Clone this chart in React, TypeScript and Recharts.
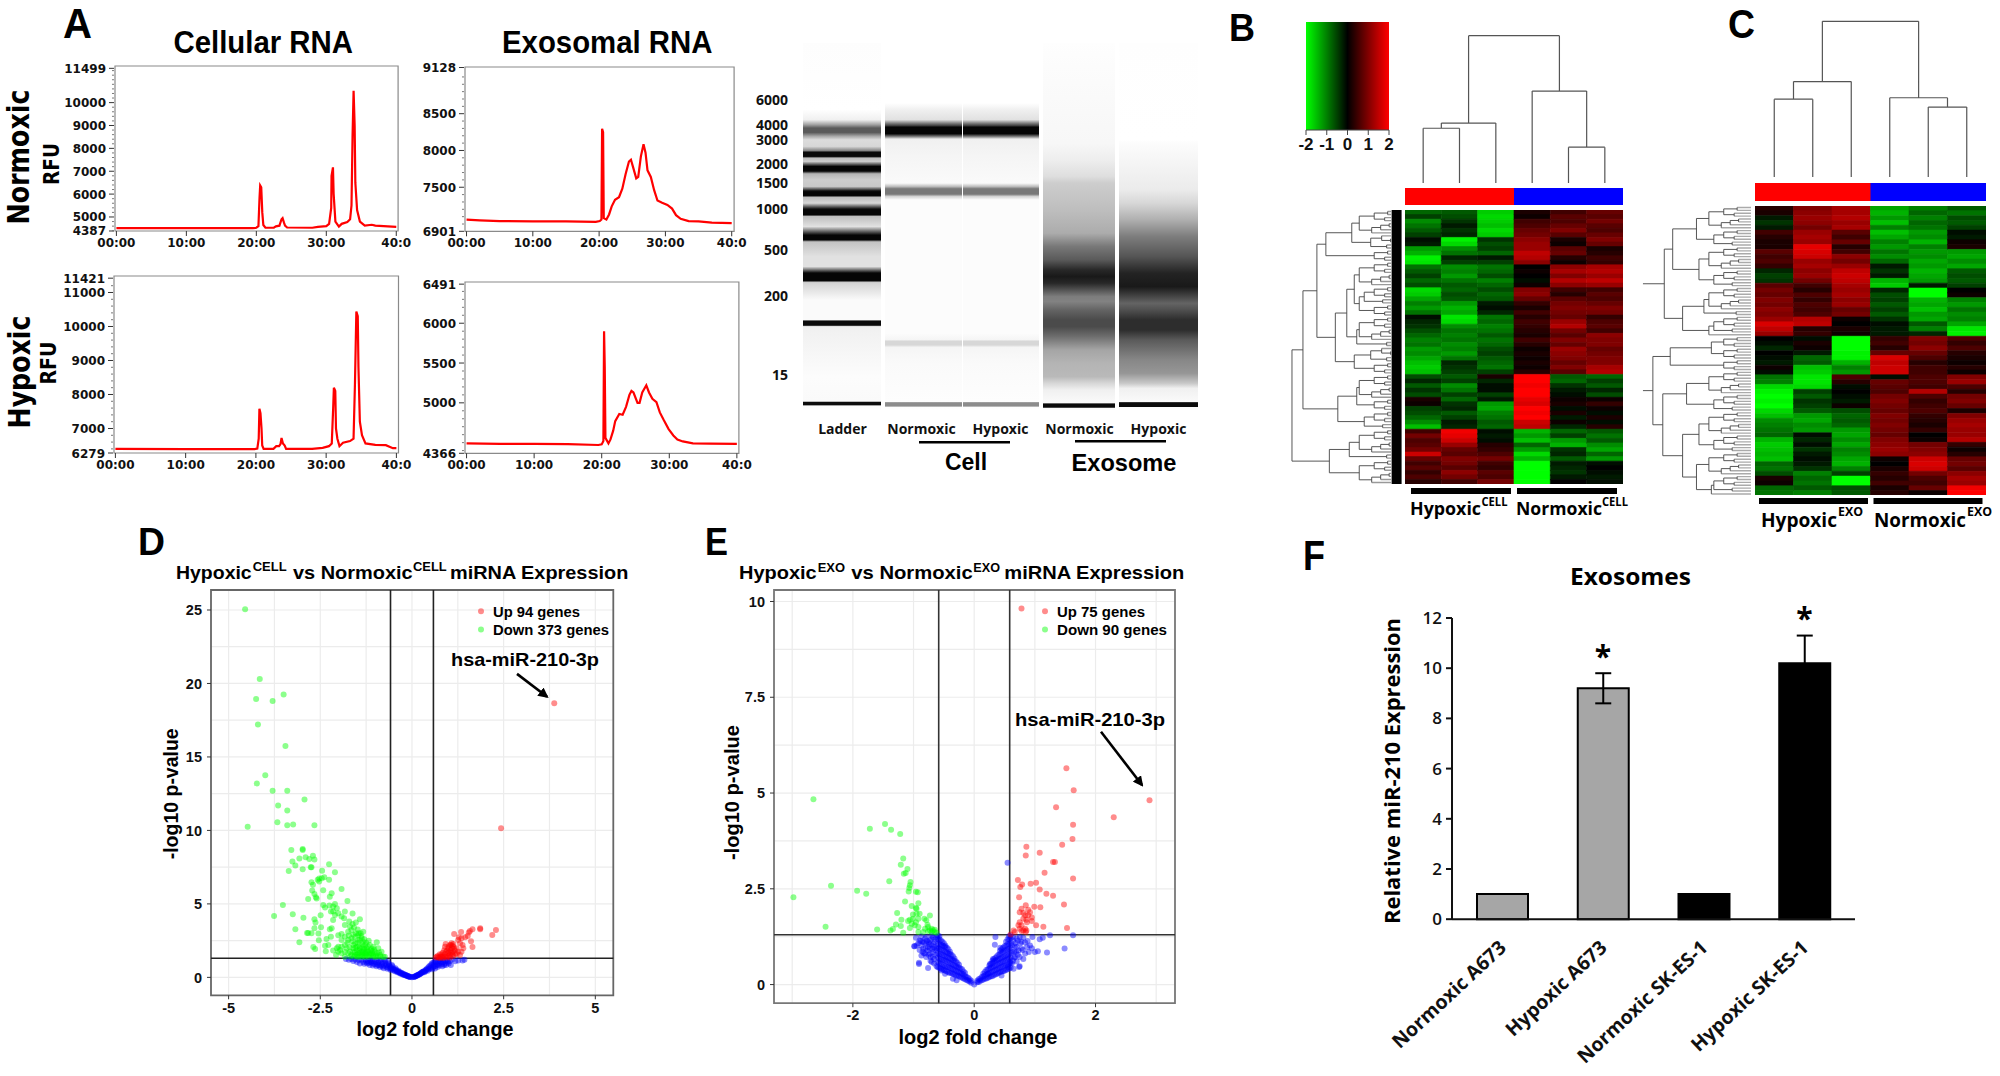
import React from "react";
import {
  Bar, BarChart, CartesianGrid, Cell, ErrorBar, Line, LineChart,
  ReferenceArea, ReferenceLine, Scatter, ScatterChart, XAxis, YAxis,
} from "recharts";

type Pt = [number, number];
type Tree = number | [number, Tree, Tree];

// ---- panel A traces: [minutes, RFU]
const normCell: Pt[] = [[0,4510],[10,4510],[19.5,4510],[20,4530],[20.3,4600],[20.45,5800],[20.55,6380],[20.7,6300],[20.85,5200],[21,4650],[21.3,4530],[22.5,4530],[22.8,4590],[23.3,4620],[23.6,4900],[23.75,4950],[23.95,4750],[24.1,4620],[24.4,4540],[28,4530],[28.8,4570],[30,4600],[30.4,4700],[30.7,5400],[30.75,6800],[30.95,7170],[31.05,6000],[31.3,4800],[31.8,4580],[32.2,4700],[33,4780],[33.4,4900],[33.6,5500],[33.75,8500],[33.9,10520],[34.05,9000],[34.15,6500],[34.4,5300],[34.8,4800],[35.5,4620],[36.5,4660],[37,4620],[40,4570]];
const normExo: Pt[] = [[0,7060],[2,7050],[5,7040],[10,7035],[15,7035],[19.5,7030],[20.1,7040],[20.35,7060],[20.45,8295],[20.6,8250],[20.7,7080],[21.1,7060],[21.5,7130],[21.9,7240],[22.4,7330],[23,7365],[23.5,7480],[24,7680],[24.5,7850],[24.8,7875],[25.1,7780],[25.6,7620],[25.9,7640],[26.3,7920],[26.7,8085],[27,7970],[27.3,7730],[27.8,7640],[28.3,7460],[28.8,7320],[29.5,7290],[30.3,7260],[31,7210],[31.6,7120],[32.3,7070],[33.5,7040],[35,7035],[37,7020],[40,7012]];
const hypCell: Pt[] = [[0,6400],[10,6395],[19.8,6395],[20.2,6410],[20.4,6700],[20.5,7580],[20.65,7450],[20.8,7000],[20.9,6500],[21.1,6400],[22.5,6400],[22.9,6480],[23.3,6480],[23.5,6540],[23.65,6720],[23.85,6560],[24.1,6500],[24.3,6400],[28,6400],[29.5,6430],[30.4,6480],[30.8,6560],[31,7600],[31.1,8200],[31.3,8100],[31.4,7000],[31.6,6700],[31.9,6480],[32.4,6580],[33.4,6630],[33.9,6700],[34.1,8300],[34.3,10440],[34.5,10300],[34.6,8800],[34.8,7200],[35.1,6800],[35.6,6560],[37,6520],[38.5,6510],[39.5,6420],[40,6420]];
const hypExo: Pt[] = [[0,4490],[5,4485],[10,4485],[15,4480],[19.5,4470],[20,4478],[20.25,4520],[20.35,5900],[20.45,5450],[20.55,4560],[21,4490],[21.3,4540],[21.7,4650],[22,4770],[22.6,4860],[23.1,4850],[23.6,4950],[24.1,5100],[24.4,5150],[24.7,5130],[25.3,5000],[25.6,5000],[26,5130],[26.6,5220],[27,5130],[27.5,5050],[28.1,5010],[28.6,4880],[29.2,4780],[29.9,4670],[30.6,4590],[31.2,4540],[32,4515],[33.5,4490],[36,4488],[40,4484]];
const timeTicks = [0, 10, 20, 30, 40];
const timeLabels = ["00:00", "10:00", "20:00", "30:00", "40:0"];

// ---- panel A gel: [migration, grey level]
const gelSizes = ["6000", "4000", "3000", "2000", "1500", "1000", "500", "200", "15"];
const gelSizePos = [172, 245, 291, 363, 421, 498, 620, 759, 996];
const gelLanes = ["Ladder", "Normoxic", "Hypoxic", "Normoxic", "Hypoxic"];
const gelLaneInset = [[0, 1], [3, -1], [2, 1], [3, 4], [0, 0]];
const ladderStops: Pt[] = [[0,253],[200,255],[230,240],[245,160],[255,90],[268,90],[280,170],[290,220],[310,215],[323,130],[327,10],[340,10],[345,190],[355,205],[366,60],[370,5],[384,5],[392,180],[410,205],[430,200],[443,20],[446,5],[457,5],[463,190],[480,215],[497,20],[500,5],[515,5],[520,190],[550,225],[574,20],[576,5],[590,5],[596,195],[640,225],[670,225],[688,20],[691,5],[712,5],[718,210],[770,250],[830,250],[833,10],[846,10],[850,240],[1000,252],[1074,250],[1076,10],[1084,10],[1088,250],[1100,253]];
const cellStops: Pt[] = [[0,255],[180,255],[200,240],[230,225],[240,130],[248,60],[252,5],[272,5],[280,120],[288,240],[340,245],[420,250],[430,190],[437,120],[453,120],[460,210],[470,252],[870,252],[890,245],[893,215],[905,215],[912,245],[960,250],[1075,253],[1078,140],[1088,140],[1092,253],[1100,255]];
const exoNormStops: Pt[] = [[0,254],[70,252],[300,247],[350,238],[400,222],[420,205],[500,190],[570,172],[610,120],[650,90],[680,40],[700,25],[720,40],[760,125],[775,130],[800,100],[830,75],[850,75],[880,110],[920,165],[960,180],[1000,185],[1020,215],[1040,240],[1078,250],[1082,10],[1092,10],[1094,250],[1100,253]];
const exoHypStops: Pt[] = [[0,254],[290,255],[300,252],[440,235],[480,215],[530,175],[580,125],[640,85],[690,35],[730,25],[760,70],[780,100],[800,80],[830,45],[860,45],[890,90],[930,120],[950,135],[990,150],[1020,200],[1035,240],[1075,250],[1078,10],[1090,10],[1092,250],[1100,253]];
const gelStops = [ladderStops, cellStops, cellStops, exoNormStops, exoHypStops];

// ---- panels B, C heat maps, z scores (Hypoxic x3, Normoxic x3)
const heatCell: number[][] = [
[-.8,-.7,-1.6,.2,.5,.8],[-.5,-.6,-1.7,.1,.7,.7],[-1.1,-.4,-1.6,.5,.6,.9],[-.9,-.2,-1.5,.6,.8,.7],[-.7,-.4,-1.7,.8,1,.6],[-.5,-.3,-1.6,.9,.7,.8],
[-.1,-1.9,-.4,1.1,.2,1],[-.2,-1.7,-.6,1.2,.1,.8],[-1.2,-1.1,-.5,1.2,.7,.2],[-1.4,-.9,-.8,1.5,.8,.3],[-1.9,-.3,-.2,1.4,.3,.5],[-1.8,-.5,-.5,1.1,.1,.4],
[-.9,-1.1,-.9,0,1.1,1.3],[-.7,-1,-.8,.1,1.3,1.4],[-.5,-1.2,-.6,0,1,1.2],[-.8,-.9,-1,-.1,1.4,1.5],[-.6,-.7,-.8,.1,1.1,1.2],[-1.7,-.8,-.6,1,.5,.5],
[-1.6,-.6,-.8,1.1,.3,.7],[-1.3,-.7,-.7,.8,.7,.6],[-1,-1.2,-.2,.4,.9,.8],[-1.2,-1.4,-.1,.2,1,1],[-.9,-1.3,-.3,.5,.9,.9],[-.1,-1.8,-.9,.3,.8,.4],
[-.3,-1.7,-.8,.5,1.2,.6],[-.4,-1.1,-1,.4,1.4,.7],[-.6,-.9,-.9,.3,.9,.5],[-.8,-1,-.7,.2,.7,1.1],[-1,-.9,-.9,.5,1,1],[-.9,-1.1,-.8,.3,.8,1],
[-1.2,-1,-.6,.1,1.2,.8],[-1.1,-1.2,-.5,.2,1.1,.9],[-1.3,-.9,-.7,.1,1,1],[-1.5,-.3,-.8,.2,.8,1],[-1.6,-.4,-.9,.1,1,1.3],[-1.5,-.5,-.5,.3,.7,1.4],
[-.6,-.7,.2,2,-.7,-.8],[-.3,-.5,-.3,2,-.8,-.5],[-.7,-1.1,-.1,1.9,-.4,-.7],[-.4,-.9,-.1,2,-.2,-.3],[-.6,-.5,-.5,2,-.1,-.6],[.2,-.8,-.2,1.8,.1,.1],
[.1,-.4,-1.2,1.7,.2,.4],[-.5,-.3,-1.3,2,-.1,.1],[-.6,-.7,-1,1.9,.2,-.1],[-.8,-.5,-.9,2,-.2,.2],[-1.1,-.2,-.7,1.6,.1,-.1],[-1.5,-.3,-.8,1.5,-.3,.3],
[.5,1.9,-.1,-1.4,-.8,-.7],[.9,1.8,-.2,-1.2,-.5,-.9],[.6,1.6,-.1,-1.5,-1.2,-.7],[.7,1.2,.3,-.8,-1.4,-1.1],[.9,.8,.4,-1.2,-.4,-1.3],[1.6,.7,.6,-1.7,-.3,-.8],
[.8,1,.9,-1.4,-.7,-1.2],[.5,.9,.5,-2,-.2,-.1],[.7,.7,.4,-2,-.3,0],[.4,1.1,.7,-2,-.4,-.1],[.6,.9,.6,-2,-.2,-.2],[.3,.5,.9,-2,0,-.1],
];
const heatExo: number[][] = [
[.3,1,1.3,-1.3,-1,-.7],[.2,1.1,1.3,-1.4,-.8,-.9],[-.2,1.2,1.4,-1.2,-1,-.6],[-.4,1.1,1.2,-1.5,-.8,-.7],[-.2,.9,1.3,-1,-.9,-.5],[.5,1.2,.7,-1.5,-1.2,-.1],
[.3,1.3,.5,-1.3,-1.1,-.2],[.2,1.2,.8,-1,-1.4,.1],[.2,1.8,.3,-1.2,-1,.2],[.7,1.7,.5,-.9,-1.2,-1.2],[.5,1.6,1.1,-1.1,-1.1,-1.3],[.6,1.2,.9,-.8,-1.3,-1.1],
[.4,1.3,1.2,-.2,-1.2,-1.3],[-.3,1.1,1.5,-.4,-1.4,-.7],[-.5,1.2,1.6,-.2,-1.3,-.6],[-.4,.9,1.5,-1.4,-1.2,-.7],[.7,.5,1.3,-1.6,-.2,-.5],[.9,.3,1.2,-.3,-2,0],
[.8,.6,1.3,-.6,-2,.1],[1,.4,1.1,-.5,-1.4,-1],[.9,.6,1.2,-.7,-1.3,-1.2],[1.1,.5,.8,-.5,-1.5,-.9],[1,.6,.9,-.7,-1.2,-1.1],[1.2,1.4,.1,-.4,-1.3,-1],
[1.7,1.5,0,-.1,-.7,-1.3],[1.5,.3,.2,-.2,-1,-1.8],[1.2,.4,.1,-.2,-.3,-1.9],[0,-.1,-2,.4,1,.6],[-.1,.2,-2,.5,.9,.4],[-.3,.1,-2,.3,1.1,.6],
[0,-.2,-1.9,.8,.8,.3],[-.1,-.8,-1.9,1.7,.6,.2],[-.2,-.7,-1.4,1.5,.3,.1],[.1,-1.5,-1,1.6,.5,.3],[-.1,-1.6,-1.2,1.6,.5,.1],[-.9,-1.8,.6,-.1,.6,1],
[-1,-1.8,.3,.8,.6,1.2],[-1.7,-1.7,-.1,.7,.5,.6],[-1.9,-.5,0,.6,1.4,.3],[-2,-.7,-.1,.9,.6,.9],[-1.9,-.4,-.2,1,.4,1],[-2,-.5,.1,.9,.5,.8],
[-1.7,-.7,-.6,.8,.6,.2],[-1.5,-1.2,-.8,1,.4,1],[-1.1,-1.3,-.7,.9,.3,1.2],[-1,-1.1,-.8,1,.2,1.3],[-.9,-1.2,-1.2,.9,.4,1.2],[-.8,-.1,-1.3,.8,0,1.2],
[-1.4,-.3,-1.1,1,.1,1.4],[-1.6,-.1,-1.3,1.1,.9,.4],[-1.5,-.4,-1,1.2,1,.1],[-1.4,-.2,-1.1,1.1,1.1,.3],[-1.5,-.1,-1.3,.1,1.6,.8],[-.8,-.2,-1.4,0,1.7,.9],
[-.9,-.4,-1,.2,1.6,.7],[-.6,-1,-.5,.4,.9,1.1],[.2,-.8,-2,.3,.6,1.3],[.1,-.9,-2,.5,.5,1.2],[-.8,-.7,-.6,.2,.8,1.9],[-.9,-1,-.7,.3,.1,2],
];
const scaleTicks = [-2, -1, 0, 1, 2];

// ---- dendrograms, merge heights
const a2: Tree = [.3, 0, 0];
const b3: Tree = [.42, [.25, 0, 0], 0];
const c4: Tree = [.55, [.28, 0, 0], [.34, 0, 0]];
const d5: Tree = [.62, [.4, 0, [.22, 0, 0]], [.3, 0, 0]];
const e6: Tree = [.75, c4, [.38, 0, 0]];
const f8: Tree = [.85, c4, [.6, b3, 0]];
const cellColTree: Tree = [4.29, [1.75, [1.6, 0, 0], 0], [2.68, 0, [1.05, 0, 0]]];
const exoColTree: Tree = [4.53, [2.78, [2.27, 0, 0], 0], [2.31, 0, [2.04, 0, 0]]];
const cellRowTree: Tree[] = [[2.2,
  [1.98,
    [1.7,
      [1.52, [1, f8, d5], c4],
      [1.33, [1.1, [.95, f8, [.85, e6, c4]], [.9, f8, a2]], [.95, d5, c4]]],
    [1.28, [.9, f8, c4], e6]],
  [1.45, [1.05, f8, a2], f8]]];
const exoRowTree: Tree[] = [
  [1.75, [1.58, [1.1, f8, e6], [1.05, f8, e6]], [1.38, [.95, f8, a2], [.85, e6, 0]]],
  [1.98, [1.63, [.8, c4, c4], c4], [1.78, [1.3, f8, e6], [1.38, [1.05, f8, e6], [1.1, f8, [.8, e6, 0]]]]],
];

// ---- panel D volcano: [log2 FC, -log10 p]
const dGreen: Pt[] = [[-4.55,25.05],[-4.15,20.3],[-4.25,18.95],[-3.8,18.8],[-3.5,19.25],[-4.2,17.2],[-3.45,15.75],[-4,13.75],[-4.23,13.2],[-3.8,12.7],[-3.4,12.7],[-2.93,12.1],[-3.65,11.7],[-3.4,11.35],[-4.48,10.25],[-3.67,10.55],[-3.4,10.35],[-3.24,10.4],[-2.66,10.35],
[-3.29,8.66],[-2.98,8.73],[-2.98,8.66],[-3.07,8.09],[-2.9,8.18],[-2.8,8.05],[-2.7,8.27],[-2.66,8.02],[-3.26,7.89],[-3.18,7.61],[-3.36,7.23],[-2.98,7.36],[-2.76,7.5],[-2.74,7.5],[-2.26,7.7],[-2.45,7.25],[-2.1,7.16],[-2.74,6.48],[-2.7,6.3],[-2.57,6.64],[-2.53,6.73],[-2.46,6.75],[-2.39,6.82],[-2.53,6.52],[-2.26,6.64],[-2.72,5.91],[-2.42,5.93],[-2.19,5.73],[-2.66,5.68],[-2.62,5.45],[-2.6,5.36],[-2.83,5.34],[-2.24,5.48],[-1.92,6.02],[-1.76,5.2],[-2.1,5],[-2.42,4.93],[-2.37,4.75],[-2.25,4.89],[-2.15,4.82],[-2.21,4.48],[-2.15,4.48],[-2.05,4.7],[-2.01,4.36],[-2.1,4.25],[-1.83,4.48],[-1.62,4.34],[-1.92,4.14],[-1.85,4.02],[-2.15,3.91],[-1.42,3.95],[-1.71,3.8],[-1.83,3.57],[-1.53,3.73],[-1.69,3.45],[-1.62,3.64],[-3.52,4.93],[-3.76,4.18],[-3.25,4.3],[-2.96,4.05],[-2.66,3.95],[-2.49,4.23],[-2.63,3.73],[-3.18,3.27],[-2.66,3.34],[-2.48,3.41],[-2.24,3.27],[-2.19,3.34],[-2.86,3.02],[-2.83,3.02],[-2.74,3],[-2.55,2.98],[-3.07,2.39],[-2.54,2.52],[-2.33,2.61],[-2.21,2.77],[-2.01,2.86],[-1.92,2.95],[-2.69,2.07],[-2.64,1.93],[-2.37,2.16],[-2.28,2.2],[-2.35,1.77],[-2.15,1.82],[-2.05,1.98],[-2.01,2.09],[-2.07,1.52],[-1.92,2.55],[-1.83,2.77],[-1.74,3.11],[-1.65,3.23],[-1.53,3],[-1.46,2.89],[-1.4,3],[-1.37,2.66],[-1.33,2.43],[-1.74,2.55],[-1.65,2.66],[-1.55,2.32],[-1.51,2.09],[-1.42,2.55],[-1.28,2.2],[-1.24,1.98],[-1.15,2.2],[-.96,2.39],[-1.05,2.09],[-.92,1.98],[-.83,1.75],[-.74,1.41],[-1.78,1.98],[-1.69,1.75],[-1.6,1.98],[-1.92,2.09],[-1.83,2.2],[-2.01,1.75],[-1.37,1.75],[-1.28,1.64],[-1.46,1.64],[-1.19,1.75],[-1.1,1.64],[-.96,1.64],[-.87,1.52],[-.78,1.41],[-1.55,1.52],[-1.65,1.52],[-1.74,1.64],[-1.83,1.75],[-1.92,1.64],[-1.96,1.86],[-1.83,1.41],[-1.6,1.75],[-1.42,1.98],[-1.33,1.86],[-1.15,1.52],[-1.05,1.52],[-1.28,1.41],[-1.19,1.41],[-1.46,1.41],[-1.37,1.41],[-1.01,1.75],
[-1.6,2.2],[-1.55,2.75],[-1.48,2.35],[-1.44,2.15],[-1.36,2.05],[-1.3,1.95],[-1.5,1.85],[-1.56,1.7],[-1.42,1.7],[-1.25,1.6],[-1.12,1.85],[-1.08,1.8],[-1.22,1.85],[-1.35,1.55],[-1.5,1.55],[-1.7,2.05],[-1.62,2.45],[-1.72,2.85],[-1.58,3.4],[-1.48,3.25],[-1.38,2.8],[-1.3,2.6],[-1.18,2.5],[-1.12,1.55],[-.98,1.5],[-.9,1.7],
[-1.41,1.5],[-1.32,1.48],[-1.24,1.5],[-1.16,1.62],[-1.06,1.42],[-1,1.4],[-.93,1.42],[-.85,1.4],[-1.5,1.42],[-1.58,1.42],[-1.68,1.42],[-1.26,1.75],[-1.34,1.68],[-1.44,1.82],[-1.54,2],[-1.47,2.55],[-1.35,2.25],[-1.25,2.35],[-1.2,2.1],[-1.1,1.95],[-1.03,1.9],[-1.45,3],[-1.33,3.1],[-1.6,2.9],[-1.76,2.35]];
const dRed: Pt[] = [[3.88,18.65],[2.43,10.15],[1.86,3.27],[1.86,3.34],[2.29,3.22],[2.19,2.89],[1.65,3.27],[1.58,3.16],[1.55,3.05],[1.34,3.09],[1.15,2.95],[1.28,2.73],[1.35,2.66],[1.45,2.73],[1.52,2.82],[1.61,2.45],[1.65,2.07],[1.38,2.2],[1.31,2.32],[1.26,2.55],[1.22,1.98],[1.35,1.75],[1.13,2.27],[1.08,2.32],[1.04,2.2],[.92,2.27],[.9,2.09],[.99,1.98],[1.08,1.98],[1.17,1.82],[1.26,1.75],[1.11,1.75],[1.02,1.75],[.93,1.75],[.84,1.68],[.76,1.57],[.7,1.45],[.65,1.36],[.85,1.45],[.95,1.45],[1.04,1.52],[1.13,1.45],[1.08,1.68],[1.22,1.59],[.99,1.64],[.9,1.59],[.81,1.41],[.72,1.36],[1.04,1.36],[.95,1.36],[.85,1.32],[.76,1.32],[1.13,2.09],[1.06,2.2],[1.31,1.52],[1.4,1.98],[1.1,2.15],[1,2.1],[.96,1.85],[1.15,1.95],[1.05,1.85],[.88,1.85],[.8,1.55],[.9,1.4],[1,1.45],[1.1,1.55],[1.18,1.6],[.78,1.42],[.68,1.4]];
const dBlue: Pt[] = [[-1.8,1.25],[-1.72,1.2],[-1.65,1.25],[-1.6,1.12],[-1.55,1.22],[-1.5,1.05],[-1.45,1.18],[-1.42,.95],[-1.38,1.2],[-1.33,1.05],[-1.3,.92],[-1.27,1.18],[-1.22,.95],[-1.2,1.1],[-1.15,.85],[-1.12,1.2],[-1.1,1],[-1.07,.8],[-1.03,1.1],[-1,.9],[-.97,.75],[-.95,1.2],[-.92,1],[-.9,.82],[-.87,.7],[-.85,1.15],[-.82,.92],[-.8,.72],[-.77,.62],[-.75,1.2],[-.72,.95],[-.7,.72],[-.67,.58],[-.65,1.05],[-.62,.8],[-.6,.6],[-.58,.5],[-.55,.85],[-.52,.62],[-.5,.48],[-.47,.42],[-.45,.62],[-.42,.42],[-.4,.34],[-.37,.45],[-.34,.3],[-.31,.25],[-.28,.3],[-.25,.2],[-.22,.18],[-.19,.15],[-.16,.12],[-.13,.09],[-.1,.06],[-.07,.04],[-.04,.02],[0,0],
[-1.25,1.05],[-1.18,1],[-1.13,1.05],[-1.08,1.12],[-1.05,.92],[-.98,1.02],[-.94,.85],[-.89,1.1],[-.84,.8],[-.8,1.05],[-.76,.8],[-.73,1.1],[-.69,.85],[-.66,.68],[-.63,.95],[-.59,.7],[-.56,.58],[-.53,.75],[-.49,.56],[-.46,.5],[-.43,.52],[-.39,.4],[-.36,.36],[-.33,.36],[-.3,.3],[-.27,.24],[-.24,.24],[-.21,.2],[-.18,.18],[-.15,.14],[-.12,.1],[-.09,.08],[-.06,.05],
[.04,.02],[.07,.05],[.1,.08],[.13,.12],[.16,.16],[.19,.2],[.22,.25],[.25,.3],[.28,.36],[.31,.4],[.34,.34],[.37,.5],[.4,.55],[.43,.45],[.46,.7],[.49,.6],[.52,.85],[.55,.55],[.58,1],[.6,.75],[.63,.6],[.65,1.2],[.68,.9],[.7,.7],[.72,1.1],[.75,.8],[.78,1.25],[.8,1],[.83,.75],[.86,1.2],[.9,.95],[.93,.85],[.96,1.15],[1,.95],[1.03,1.1],[1.06,.85],[1.1,1.22],[1.18,1.1],[1.26,1.15],[1.38,1.15],[1.43,1.2],
[.06,.04],[.09,.07],[.12,.1],[.15,.14],[.18,.18],[.21,.22],[.24,.27],[.27,.31],[.3,.36],[.33,.42],[.36,.42],[.39,.48],[.42,.62],[.45,.55],[.48,.78],[.51,.68],[.54,.95],[.57,.65],[.59,.88],[.62,1.05],[.65,.78],[.67,1.05],[.7,.85],[.74,.95],[.77,1.1],[.82,.9],[.85,1.05],[.88,.85],[.92,1.1],[.98,1.05]];
const dXTicks = [-5, -2.5, 0, 2.5, 5];
const dYTicks = [0, 5, 10, 15, 20, 25];
const dXGrid = [-5, -3.75, -2.5, -1.25, 0, 1.25, 2.5, 3.75, 5];
const dYGrid = [0, 2.5, 5, 7.5, 10, 12.5, 15, 17.5, 20, 22.5, 25];

// ---- panel E volcano
const eGreen: Pt[] = [[-2.65,4.84],[-1.47,4.19],[-1.37,4.04],[-1.72,4.07],[-1.22,3.93],[-1.17,3.29],[-1.21,3.13],[-1.1,3.02],[-1.13,2.91],[-1.16,2.89],[-1.4,2.7],[-1.05,2.68],[-1.06,2.59],[-1.07,2.52],[-1.08,2.43],[-.96,2.42],[-.93,2.41],[-2.36,2.58],[-1.93,2.45],[-1.78,2.37],[-2.98,2.28],[-1.14,2.17],[-.92,2.12],[-1.03,2.05],[-.96,2],[-2.45,1.51],
[-.95,1.98],[-1.27,1.87],[-1.2,1.69],[-1.01,1.83],[-.95,1.85],[-.9,1.85],[-1.09,1.66],[-1.06,1.69],[-1.01,1.72],[-.92,1.72],[-.96,1.63],[-.82,1.72],[-.73,1.8],[-.79,1.68],[-1.03,1.59],[-.98,1.55],[-1.06,1.48],[-.92,1.5],[-.76,1.5],[-.7,1.46],[-.68,1.42],[-.73,1.42],[-.81,1.46],[-1.29,1.57],[-1.21,1.53],[-1.34,1.45],[-1.38,1.41],[-1.6,1.44],[-1.17,1.35],[-.92,1.37],[-.84,1.37],[-.76,1.39],[-.7,1.37],[-.65,1.37],[-.62,1.35],[-.65,1.43],[-.77,1.56]];
const eRed: Pt[] = [[.78,9.82],[1.52,5.65],[1.64,5.07],[1.35,4.63],[2.89,4.81],[2.3,4.37],[1.63,4.17],[1.62,3.8],[1.45,3.65],[.86,3.6],[1.08,3.44],[.85,3.37],[1.3,3.2],[1.33,3.2],[1.16,2.92],[.72,2.73],[1.63,2.77],[1.02,2.66],[.93,2.63],[.79,2.61],[.76,2.55],[1.08,2.48],[1.19,2.37],[1.3,2.32],[.74,2.28],[1.48,2.09],[1.53,1.48],
[.85,2.07],[.99,2.03],[1.09,2.02],[.78,1.98],[.89,1.95],[.75,1.89],[.81,1.87],[.92,1.89],[.84,1.81],[.89,1.81],[.95,1.75],[.86,1.69],[.81,1.72],[.75,1.63],[.87,1.63],[.95,1.66],[1.02,1.55],[1.14,1.51],[.78,1.55],[.84,1.46],[.81,1.41],[.75,1.46],[.73,1.55],[.86,1.41],[.65,1.41],[.67,1.37],[.6,1.31],[.85,1.37],[.78,1.4]];
const eBlue: Pt[] = [[-.05,.05],[-.05,.1],[-.1,.1],[-.1,.18],[-.15,.14],[-.15,.22],[-.15,.3],[-.2,.18],[-.2,.28],[-.2,.4],[-.25,.22],[-.25,.32],[-.25,.44],[-.25,.52],[-.3,.24],[-.3,.36],[-.3,.48],[-.3,.6],[-.35,.28],[-.35,.4],[-.35,.52],[-.35,.64],[-.35,.74],[-.4,.3],[-.4,.44],[-.4,.56],[-.4,.68],[-.4,.8],[-.4,.86],[-.45,.34],[-.45,.46],[-.45,.6],[-.45,.72],[-.45,.84],[-.45,.96],[-.5,.38],[-.5,.5],[-.5,.64],[-.5,.76],[-.5,.88],[-.5,1],[-.5,1.08],[-.55,.42],[-.55,.54],[-.55,.66],[-.55,.8],[-.55,.92],[-.55,1.04],[-.55,1.16],[-.6,.45],[-.6,.58],[-.6,.7],[-.6,.82],[-.6,.95],[-.6,1.06],[-.6,1.18],[-.6,1.28],
[-.075,.08],[-.075,.14],[-.125,.12],[-.125,.2],[-.175,.16],[-.175,.26],[-.175,.34],[-.225,.2],[-.225,.3],[-.225,.42],[-.275,.24],[-.275,.34],[-.275,.46],[-.275,.56],[-.325,.26],[-.325,.38],[-.325,.5],[-.325,.62],[-.325,.68],[-.375,.3],[-.375,.42],[-.375,.54],[-.375,.66],[-.375,.78],[-.425,.32],[-.425,.45],[-.425,.58],[-.425,.7],[-.425,.82],[-.425,.92],[-.475,.36],[-.475,.48],[-.475,.62],[-.475,.74],[-.475,.86],[-.475,.98],[-.475,1.02],[-.525,.4],[-.525,.52],[-.525,.65],[-.525,.78],[-.525,.9],[-.525,1.02],[-.525,1.12],[-.575,.44],[-.575,.56],[-.575,.68],[-.575,.8],[-.575,.94],[-.575,1.06],[-.575,1.18],[-.575,1.26],
[-.99,1],[-.98,1],[-.96,1.22],[-.9,1.15],[-.87,1.02],[-.84,.94],[-.81,1.2],[-.79,1.07],[-.76,.98],[-.73,1.15],[-.7,1.02],[-.68,.85],[-.65,1.11],[-.62,.94],[-.87,.76],[-.79,.72],[-.91,.57],[-.91,.54],[-.76,.43],[-.62,.48],[-.66,.67],[-.73,.81],[-.77,.89],[-.83,.82],[-.95,1.02],[-.7,1.28],[-.79,1.24],[-.87,1.26],[-.62,1.24],[-.68,1.24],[-.73,.94],[-.81,.81],[-.7,.59],[-.48,.28],[-.35,.15],[-.29,.11],[-.54,.37],[-.75,1.1],[-.66,.98],[-.85,1.12],[-.72,.72],[-.64,.78],[-.64,1.18],[-.67,1.05],[-.69,.93],[-.71,1.18],[-.74,1.05],[-.66,.55],[-.64,.9],[-.78,1.14],[-.83,1.1],[-.88,1.14],[-.92,1.08],[-.75,.78],[-.8,.95],[-.85,.86],[-.9,.9],[-.68,.72],[-.72,.62],
[0,0],[.05,.06],[.05,.1],[.1,.1],[.1,.16],[.15,.13],[.15,.22],[.15,.28],[.2,.16],[.2,.26],[.2,.38],[.25,.2],[.25,.3],[.25,.42],[.25,.5],[.3,.22],[.3,.34],[.3,.46],[.3,.56],[.3,.62],[.35,.26],[.35,.38],[.35,.5],[.35,.62],[.35,.7],[.4,.3],[.4,.42],[.4,.55],[.4,.66],[.4,.78],[.45,.34],[.45,.46],[.45,.58],[.45,.7],[.45,.84],[.45,.92],[.5,.36],[.5,.5],[.5,.62],[.5,.74],[.5,.88],[.5,1],[.55,.4],[.55,.52],[.55,.66],[.55,.78],[.55,.92],[.55,1.05],[.55,1.18],[.6,.44],[.6,.56],[.6,.7],[.6,.82],[.6,.95],[.6,1.08],[.6,1.2],[.6,1.28],
[.075,.07],[.075,.14],[.125,.11],[.125,.2],[.175,.15],[.175,.24],[.175,.33],[.225,.18],[.225,.28],[.225,.4],[.275,.22],[.275,.32],[.275,.44],[.275,.54],[.325,.25],[.325,.36],[.325,.48],[.325,.6],[.325,.66],[.375,.28],[.375,.4],[.375,.52],[.375,.64],[.375,.74],[.425,.32],[.425,.44],[.425,.56],[.425,.68],[.425,.8],[.425,.88],[.475,.35],[.475,.48],[.475,.6],[.475,.72],[.475,.86],[.475,.96],[.525,.38],[.525,.5],[.525,.64],[.525,.76],[.525,.9],[.525,1.02],[.525,1.12],[.575,.42],[.575,.54],[.575,.68],[.575,.8],[.575,.94],[.575,1.06],[.575,1.18],[.575,1.26],
[.35,1.24],[.34,1.04],[.43,.96],[.55,3.18],[.64,1.24],[.7,1.2],[.75,1.24],[.81,1.22],[.96,1.24],[1.13,1.22],[1.08,1.18],[1.25,1.29],[1.63,1.29],[1.49,.94],[1.2,.84],[1.05,.87],[1,.85],[.92,1.02],[.84,.81],[.87,.98],[.78,.94],[.7,.98],[.75,.48],[.74,.46],[.65,.41],[.59,.59],[.67,.72],[.81,.67],[.73,.89],[.62,1.02],[.56,.46],[.45,.24],[.26,.54],[.31,.67],[.23,.28],[.68,1.08],[.76,1.08],[.66,.86],[.72,.78],[.64,.62],[.64,1.15],[.67,1],[.69,.85],[.72,1.15],[.66,.7],[.63,.85],[.78,1.12],[.84,1.1],[.88,1.14],[.75,.72],[.7,.6],[.8,.9],[.9,.85],[.95,.95],[.62,.55]];
const eXTicks = [-2, 0, 2];
const eYTicks = [0, 2.5, 5, 7.5, 10];
const eXGrid = [-3, -2, -1, 0, 1, 2, 3];
const eYGrid = [0, 1.25, 2.5, 3.75, 5, 6.25, 7.5, 8.75, 10];

// ---- panel F
const fNames = ["Normoxic A673", "Hypoxic A673", "Normoxic SK-ES-1", "Hypoxic SK-ES-1"];
const fValues = [1, 9.2, 1, 10.2];
const fErrors = [null, 0.6, null, 1.1];
const fColors = ["#a6a6a6", "#a6a6a6", "#000000", "#000000"];
const fTicks = [0, 2, 4, 6, 8, 10, 12];

const SANS = "'Liberation Sans', Arial, sans-serif";
const NARROW = "'Liberation Sans Narrow', 'Liberation Sans', sans-serif";
const DEJA = "'DejaVu Sans', sans-serif";
const NOTO = "'Open Sans', 'Noto Sans', sans-serif";

function place(plot: number[], pad: number[]) {
  const [x0, y0, x1, y1] = plot;
  const [l, t, r, b] = pad;
  return {
    style: { position: "absolute" as const, left: x0 - l, top: y0 - t },
    width: x1 - x0 + l + r,
    height: y1 - y0 + t + b,
    margin: { left: 0, top: t, right: r, bottom: 0 },
    yw: l,
    xh: b,
  };
}

const heatColor = (z: number) => {
  const v = Math.round((Math.min(Math.abs(z), 2) / 2) * 255);
  return z < 0 ? `rgb(0,${v},0)` : `rgb(${v},0,0)`;
};

function treeLines(trees: Tree[], stub?: number, leafStart = 0) {
  const inner: any[] = [];
  const leaves: any[] = [];
  let n = 0;
  const gap = { pos: null, h: null };
  const walk = (t: Tree): { pos: number; h: number } => {
    if (typeof t === "number") {
      n += 1;
      return { pos: n - 0.5, h: 0 };
    }
    const a = walk(t[1]);
    const b = walk(t[2]);
    const h = t[0];
    [a, b].forEach((c) => {
      if (c.h === 0) leaves.push({ pos: c.pos, h: leafStart }, { pos: c.pos, h }, gap);
      else inner.push({ pos: c.pos, h: c.h }, { pos: c.pos, h }, gap);
    });
    inner.push({ pos: a.pos, h }, { pos: b.pos, h }, gap);
    return { pos: (a.pos + b.pos) / 2, h };
  };
  trees.forEach((t) => {
    const root = walk(t);
    if (stub) inner.push({ pos: root.pos, h: root.h }, { pos: root.pos, h: stub }, gap);
  });
  return { inner, leaves, count: n };
}

function RowDendro({ plot, trees, maxH, stub, leafColor, solid }: any) {
  const p = place(plot, [0, 0, 0, 0]);
  const { inner, leaves, count } = treeLines(trees, stub, solid || 0);
  return (
    <div style={p.style}>
      <LineChart width={p.width} height={p.height} margin={p.margin}>
        <XAxis dataKey="h" type="number" domain={[0, maxH]} reversed hide />
        <YAxis type="number" domain={[0, count]} reversed hide />
        {solid ? <ReferenceArea x1={0} x2={solid} y1={0} y2={count} fill="#000" fillOpacity={1} stroke="none" /> : null}
        <Line data={leaves} dataKey="pos" stroke={leafColor} strokeWidth={1.4} dot={false} isAnimationActive={false} />
        <Line data={inner} dataKey="pos" stroke="#444" strokeWidth={0.9} dot={false} isAnimationActive={false} />
      </LineChart>
    </div>
  );
}

function ColDendro({ plot, tree, maxH }: any) {
  const p = place(plot, [0, 0, 0, 0]);
  const { inner, leaves, count } = treeLines([tree]);
  return (
    <div style={p.style}>
      <LineChart width={p.width} height={p.height} margin={p.margin}>
        <XAxis dataKey="pos" type="number" domain={[0, count]} hide />
        <YAxis type="number" domain={[0, maxH]} hide />
        <Line data={leaves} dataKey="h" stroke="#555" strokeWidth={1.2} dot={false} isAnimationActive={false} />
        <Line data={inner} dataKey="h" stroke="#555" strokeWidth={1.2} dot={false} isAnimationActive={false} />
      </LineChart>
    </div>
  );
}

function Heatmap({ plot, rows }: any) {
  const p = place(plot, [0, 0, 0, 0]);
  const cols = [0, 1, 2, 3, 4, 5];
  const data = rows.map((r: number[], i: number) => {
    const o: any = { row: i };
    cols.forEach((c) => (o[`c${c}`] = 1));
    return o;
  });
  return (
    <div style={p.style}>
      <BarChart layout="vertical" width={p.width} height={p.height} margin={p.margin} data={data} barCategoryGap={0}>
        <XAxis type="number" domain={[0, 6]} hide />
        <YAxis type="category" dataKey="row" hide />
        {cols.map((c) => (
          <Bar key={c} dataKey={`c${c}`} stackId="h" isAnimationActive={false}>
            {rows.map((r: number[], i: number) => (
              <Cell key={i} fill={heatColor(r[c])} stroke={heatColor(r[c])} strokeWidth={0.6} />
            ))}
          </Bar>
        ))}
      </BarChart>
    </div>
  );
}

function GroupBar({ plot, colors, gap }: any) {
  const p = place(plot, [0, 0, 0, 0]);
  const data = colors.map((c: string, i: number) => ({ group: i, v: 1 }));
  return (
    <div style={p.style}>
      <BarChart width={p.width} height={p.height} margin={p.margin} data={data} barCategoryGap={gap}>
        <XAxis dataKey="group" hide />
        <YAxis domain={[0, 1]} hide />
        <Bar dataKey="v" isAnimationActive={false}>
          {colors.map((c: string, i: number) => (
            <Cell key={i} fill={c} />
          ))}
        </Bar>
      </BarChart>
    </div>
  );
}

function Electro({ plot, points, xDomain, yDomain, majors, step }: any) {
  const p = place(plot, [60, 8, 24, 36]);
  const data = points.map((d: Pt) => ({ t: d[0], rfu: d[1] }));
  const minors: number[] = [];
  for (let v = Math.ceil(yDomain[0] / step) * step; v < yDomain[1] - step / 2; v += step) minors.push(v);
  const ticks = Array.from(new Set([...majors, ...minors])).sort((a: any, b: any) => a - b);
  const YTick = (t: any) => {
    const major = majors.includes(t.payload.value);
    return (
      <g>
        <line x1={t.x - (major ? 6 : 3)} x2={t.x - 1} y1={t.y} y2={t.y} stroke={major ? "#333" : "#777"} strokeWidth={1} />
        {major ? (
          <text x={t.x - 9} y={t.y + 4.5} textAnchor="end" fontFamily={DEJA} fontWeight={700} fontSize={12} fill="#111">
            {t.payload.value}
          </text>
        ) : null}
      </g>
    );
  };
  return (
    <div style={p.style}>
      <LineChart width={p.width} height={p.height} margin={p.margin} data={data}>
        <XAxis
          dataKey="t" type="number" domain={xDomain} ticks={timeTicks} interval={0} height={p.xh}
          tickFormatter={(v: number) => timeLabels[timeTicks.indexOf(v)]}
          tick={{ fontFamily: DEJA, fontWeight: 700, fontSize: 12, fill: "#111" }}
          tickSize={5} tickMargin={2} axisLine={false} stroke="#333"
        />
        <YAxis
          type="number" domain={yDomain} ticks={ticks as number[]} interval={0} width={p.yw}
          tick={YTick} tickSize={0} tickMargin={0} tickLine={false} axisLine={false}
        />
        <ReferenceArea x1={xDomain[0]} x2={xDomain[1]} y1={yDomain[0]} y2={yDomain[1]} fill="none" stroke="#8a8a8a" strokeWidth={1.2} />
        <Line dataKey="rfu" stroke="#ff0000" strokeWidth={2.2} dot={false} isAnimationActive={false} type="linear" />
      </LineChart>
    </div>
  );
}

function Gel() {
  const p = place([803, 43, 1198, 410], [50, 0, 0, 30]);
  const data = gelLanes.map((lane) => ({ lane, span: 1100 }));
  const LaneShape = (b: any) => {
    const [l, r] = gelLaneInset[b.index];
    const top = Math.min(b.y, b.y + b.height);
    return <rect x={b.x + l} y={top} width={b.width - l - r} height={Math.abs(b.height)} fill={`url(#lane${b.index})`} />;
  };
  return (
    <div style={p.style}>
      <BarChart width={p.width} height={p.height} margin={p.margin} data={data} barCategoryGap={0}>
        <XAxis
          dataKey="lane" interval={0} height={p.xh} axisLine={false} tickLine={false} tickMargin={8}
          tick={{ fontFamily: NOTO, fontWeight: 700, fontSize: 14, fill: "#111" }}
        />
        <YAxis
          type="number" domain={[0, 1100]} reversed ticks={gelSizePos} interval={0} width={p.yw}
          axisLine={false} tickLine={false} tickMargin={9}
          tickFormatter={(v: number) => gelSizes[gelSizePos.indexOf(v)]}
          tick={{ fontFamily: NOTO, fontWeight: 700, fontSize: 14, fill: "#111" }}
        />
        <Bar dataKey="span" shape={LaneShape} isAnimationActive={false} />
      </BarChart>
    </div>
  );
}

function ColorScale() {
  const p = place([1306, 22, 1389, 130], [20, 0, 20, 32]);
  return (
    <div style={p.style}>
      <BarChart
        layout="vertical" width={p.width} height={p.height} margin={{ ...p.margin, left: p.yw }}
        data={[{ name: "z", span: [scaleTicks[0], scaleTicks[scaleTicks.length - 1]] }]} barCategoryGap={0}
      >
        <XAxis
          type="number" domain={[-2, 2]} ticks={scaleTicks} interval={0} height={p.xh}
          tickSize={5} tickMargin={3} stroke="#444"
          tick={{ fontFamily: NARROW, fontWeight: 700, fontSize: 17, fill: "#111" }}
        />
        <YAxis type="category" dataKey="name" hide />
        <Bar dataKey="span" fill="url(#zscale)" isAnimationActive={false} />
      </BarChart>
    </div>
  );
}

const dot = (color: string) => (s: any) => <circle cx={s.cx} cy={s.cy} r={3} fill={color} fillOpacity={0.45} />;

function Volcano({ plot, xDomain, yDomain, xTicks, yTicks, xGrid, yGrid, green, red, blue, thrX, thrY, lineColor, frameColor }: any) {
  const p = place(plot, [45, 4, 4, 40]);
  const toXY = (pts: Pt[]) => pts.map((d) => ({ x: d[0], y: d[1] }));
  const font = { fontFamily: SANS, fontWeight: 700, fontSize: 14.5, fill: "#111" };
  return (
    <div style={p.style}>
      <ScatterChart width={p.width} height={p.height} margin={p.margin}>
        <CartesianGrid verticalValues={xGrid} horizontalValues={yGrid} stroke="#ececec" strokeWidth={1.2} />
        <XAxis dataKey="x" type="number" domain={xDomain} ticks={xTicks} interval={0} height={p.xh} axisLine={false} tickSize={4} tickMargin={3} stroke="#333" tick={font} />
        <YAxis dataKey="y" type="number" domain={yDomain} ticks={yTicks} interval={0} width={p.yw} axisLine={false} tickSize={4} tickMargin={5} stroke="#333" tick={font} />
        <Scatter data={toXY(blue)} shape={dot("#0000ff")} isAnimationActive={false} />
        <Scatter data={toXY(green)} shape={dot("#00ff00")} isAnimationActive={false} />
        <Scatter data={toXY(red)} shape={dot("#ff0000")} isAnimationActive={false} />
        <ReferenceLine x={-thrX} stroke={lineColor} strokeWidth={1.6} />
        <ReferenceLine x={thrX} stroke={lineColor} strokeWidth={1.6} />
        <ReferenceLine y={thrY} stroke={lineColor} strokeWidth={1.6} />
        <ReferenceArea x1={xDomain[0]} x2={xDomain[1]} y1={yDomain[0]} y2={yDomain[1]} fill="none" stroke={frameColor} strokeWidth={1.8} />
      </ScatterChart>
    </div>
  );
}

function Exosomes() {
  const p = place([1452, 617.8, 1855, 919], [110, 10, 10, 157]);
  const data = fNames.map((name, i) => ({ name, value: fValues[i], err: fErrors[i] }));
  const NameTick = (t: any) => (
    <text
      x={t.x + 5} y={t.y + 22} textAnchor="end" transform={`rotate(-43 ${t.x + 5} ${t.y + 22})`}
      fontFamily={NOTO} fontWeight={700} fontSize={19.5} fill="#111"
    >
      {t.payload.value}
    </text>
  );
  return (
    <div style={p.style}>
      <BarChart width={p.width} height={p.height} margin={p.margin} data={data} barSize={51}>
        <XAxis dataKey="name" interval={0} height={p.xh} tick={NameTick} tickLine={false} stroke="#111" strokeWidth={2} />
        <YAxis
          type="number" domain={[0, 12]} ticks={fTicks} interval={0} width={p.yw} stroke="#111" strokeWidth={2}
          tickSize={6} tickMargin={4} tick={{ fontFamily: NOTO, fontWeight: 600, fontSize: 17, fill: "#111" }}
        />
        <Bar dataKey="value" stroke="#000" strokeWidth={2} isAnimationActive={false}>
          {data.map((d, i) => (
            <Cell key={d.name} fill={fColors[i]} />
          ))}
          <ErrorBar dataKey="err" width={8} stroke="#000" strokeWidth={2} isAnimationActive={false} />
        </Bar>
      </BarChart>
    </div>
  );
}

function T({ x, y, s, w, a, rot, ff, fw, children }: any) {
  return (
    <text
      x={x} y={y} fontSize={s} fontFamily={ff || SANS} fontWeight={fw === undefined ? 700 : fw} fill="#000"
      textAnchor={a || "start"} transform={rot ? `rotate(${rot} ${x} ${y})` : undefined}
      textLength={w} lengthAdjust={w ? "spacingAndGlyphs" : undefined}
    >
      {children}
    </text>
  );
}

function Annotations() {
  return (
    <svg width={2000} height={1076} style={{ position: "absolute", left: 0, top: 0, pointerEvents: "none" }}>
      <defs>
        <marker id="head" markerWidth="4" markerHeight="4" refX="3.2" refY="2" orient="auto">
          <path d="M0,0 L4,2 L0,4 Z" fill="#000" />
        </marker>
        <linearGradient id="zscale" x1="0" y1="0" x2="1" y2="0">
          {scaleTicks.map((z) => (
            <stop key={z} offset={(z + 2) / 4} stopColor={heatColor(z)} />
          ))}
        </linearGradient>
        {gelStops.map((stops, i) => (
          <linearGradient key={i} id={`lane${i}`} x1="0" y1="0" x2="0" y2="1">
            {stops.map((s, j) => (
              <stop key={j} offset={s[0] / 1100} stopColor={`rgb(${s[1]},${s[1]},${s[1]})`} />
            ))}
          </linearGradient>
        ))}
      </defs>
      {/* panel letters */}
      <T x={63} y={38} s={42} w={29}>A</T>
      <T x={1229} y={41} s={39} w={26}>B</T>
      <T x={1728} y={38} s={40} w={27}>C</T>
      <T x={138} y={555} s={39} w={27}>D</T>
      <T x={705} y={555} s={39} w={23}>E</T>
      <T x={1303} y={570} s={42} w={22}>F</T>
      {/* panel A labels */}
      <T x={173.5} y={53} s={31} w={179.5} ff={NARROW}>Cellular RNA</T>
      <T x={502} y={53} s={31} w={210.5} ff={NARROW}>Exosomal RNA</T>
      <T x={29} y={157} s={30} w={135} a="middle" rot={-90} ff={DEJA}>Normoxic</T>
      <T x={59} y={164} s={22} w={42} a="middle" rot={-90} ff={DEJA}>RFU</T>
      <T x={30} y={372} s={30} w={113} a="middle" rot={-90} ff={DEJA}>Hypoxic</T>
      <T x={56} y={363} s={22} w={43} a="middle" rot={-90} ff={DEJA}>RFU</T>
      <rect x={919} y={441} width={91} height={2.5} fill="#000" />
      <rect x={1075} y={440} width={91} height={2.5} fill="#000" />
      <T x={966} y={470} s={23} a="middle">Cell</T>
      <T x={1124} y={471} s={23.6} a="middle">Exosome</T>
      {/* heat map labels */}
      <T x={1410} y={515} s={18} w={71} ff={NOTO}>Hypoxic</T>
      <T x={1481.5} y={506} s={11.5} w={26} ff={NOTO}>CELL</T>
      <T x={1516} y={515} s={18} w={86} ff={NOTO}>Normoxic</T>
      <T x={1602} y={506} s={11.5} w={26} ff={NOTO}>CELL</T>
      <T x={1761} y={527} s={20} w={76} ff={NOTO}>Hypoxic</T>
      <T x={1838} y={516} s={13} w={25} ff={NOTO}>EXO</T>
      <T x={1874} y={527} s={20} w={92} ff={NOTO}>Normoxic</T>
      <T x={1967} y={516} s={13} w={25} ff={NOTO}>EXO</T>
      {/* panel D text */}
      <T x={176} y={578.5} s={18} w={75.7}>Hypoxic</T>
      <T x={252.7} y={571} s={12.5} w={34}>CELL</T>
      <T x={293} y={578.5} s={18} w={119.7}>vs Normoxic</T>
      <T x={413} y={571} s={12.5} w={33.7}>CELL</T>
      <T x={450} y={578.5} s={18} w={178.3}>miRNA Expression</T>
      <circle cx={481} cy={611.3} r={3} fill="#ff0000" fillOpacity={0.45} />
      <circle cx={481} cy={629.5} r={3} fill="#00ff00" fillOpacity={0.45} />
      <T x={493} y={616.5} s={14} w={87}>Up 94 genes</T>
      <T x={493} y={634.5} s={14} w={116}>Down 373 genes</T>
      <T x={451} y={666.3} s={19} w={148}>hsa-miR-210-3p</T>
      <line x1={517} y1={673.9} x2={547} y2={696.7} stroke="#000" strokeWidth={2.6} markerEnd="url(#head)" />
      <T x={435} y={1035.5} s={20} w={157} a="middle">log2 fold change</T>
      <T x={178} y={793.8} s={20} w={131} a="middle" rot={-90}>-log10 p-value</T>
      {/* panel E text */}
      <T x={739} y={579.2} s={18} w={77.7}>Hypoxic</T>
      <T x={817.7} y={571.5} s={12.5} w={27.3}>EXO</T>
      <T x={851.3} y={579.2} s={18} w={121.4}>vs Normoxic</T>
      <T x={973.3} y={571.5} s={12.5} w={26.7}>EXO</T>
      <T x={1004.3} y={579.2} s={18} w={180}>miRNA Expression</T>
      <circle cx={1045} cy={611.3} r={3} fill="#ff0000" fillOpacity={0.45} />
      <circle cx={1045} cy={629.5} r={3} fill="#00ff00" fillOpacity={0.45} />
      <T x={1057} y={616.5} s={14} w={88}>Up 75 genes</T>
      <T x={1057} y={634.5} s={14} w={110}>Down 90 genes</T>
      <T x={1015} y={725.6} s={19} w={150}>hsa-miR-210-3p</T>
      <line x1={1101} y1={731.8} x2={1142} y2={785} stroke="#000" strokeWidth={2.6} markerEnd="url(#head)" />
      <T x={978} y={1044} s={20} w={159} a="middle">log2 fold change</T>
      <T x={739} y={792.6} s={20} w={135} a="middle" rot={-90}>-log10 p-value</T>
      {/* panel F text */}
      <T x={1630.5} y={585} s={23} w={121} a="middle" ff={NOTO}>Exosomes</T>
      <T x={1400} y={771} s={22} w={306} a="middle" rot={-90} ff={NOTO}>Relative miR-210 Expression</T>
      <T x={1603} y={667} s={30} a="middle" ff={NOTO}>*</T>
      <T x={1804.5} y={629} s={30} a="middle" ff={NOTO}>*</T>
    </svg>
  );
}

export default function App() {
  return (
    <div style={{ position: "absolute", left: 0, top: 0, width: 2000, height: 1076, background: "#fff", overflow: "hidden" }}>
      <Electro plot={[115.4, 66, 398.5, 231]} points={normCell} xDomain={[-0.2, 40.26]} yDomain={[4387, 11601]} majors={[4387, 5000, 6000, 7000, 8000, 9000, 10000, 11499]} step={200} />
      <Electro plot={[465.3, 66.7, 734.4, 231]} points={normExo} xDomain={[-0.23, 40.36]} yDomain={[6901, 9135]} majors={[6901, 7500, 8000, 8500, 9128]} step={100} />
      <Electro plot={[114, 276, 398.5, 453]} points={hypCell} xDomain={[-0.2, 40.3]} yDomain={[6279, 11485]} majors={[6279, 7000, 8000, 9000, 10000, 11000, 11421]} step={200} />
      <Electro plot={[465.3, 281.7, 739.2, 453]} points={hypExo} xDomain={[-0.23, 40.3]} yDomain={[4366, 6518]} majors={[4366, 5000, 5500, 6000, 6491]} step={100} />
      <Gel />
      <ColorScale />
      <ColDendro plot={[1405, 24.7, 1623, 183]} tree={cellColTree} maxH={4.6} />
      <GroupBar plot={[1405, 188, 1623, 205]} colors={["#ff0000", "#0000ff"]} gap={0} />
      <RowDendro plot={[1287, 210, 1401.6, 484]} trees={cellRowTree} maxH={2.3} leafColor="#999" solid={0.2} />
      <Heatmap plot={[1405, 210, 1623, 484]} rows={heatCell} />
      <GroupBar plot={[1407.5, 488, 1619.5, 494]} colors={["#000", "#000"]} gap={3} />
      <ColDendro plot={[1755, 12, 1986, 177.3]} tree={exoColTree} maxH={4.8} />
      <GroupBar plot={[1755, 183, 1986, 201]} colors={["#ff0000", "#0000ff"]} gap={0} />
      <RowDendro plot={[1638, 205.6, 1751, 495]} trees={exoRowTree} maxH={2.28} stub={2.18} leafColor="#aaa" />
      <Heatmap plot={[1755, 205.6, 1986, 495]} rows={heatExo} />
      <GroupBar plot={[1755.5, 498, 1984.5, 504]} colors={["#000", "#000"]} gap={3} />
      <Volcano plot={[211, 589.9, 613.3, 995.2]} xDomain={[-5.48, 5.49]} yDomain={[-1.22, 26.36]} xTicks={dXTicks} yTicks={dYTicks} xGrid={dXGrid} yGrid={dYGrid} green={dGreen} red={dRed} blue={dBlue} thrX={0.585} thrY={1.3} lineColor="#222" frameColor="#666" />
      <Volcano plot={[774, 589.6, 1175, 1002.8]} xDomain={[-3.3, 3.31]} yDomain={[-0.486, 10.3]} xTicks={eXTicks} yTicks={eYTicks} xGrid={eXGrid} yGrid={eYGrid} green={eGreen} red={eRed} blue={eBlue} thrX={0.585} thrY={1.3} lineColor="#333" frameColor="#777" />
      <Exosomes />
      <Annotations />
    </div>
  );
}
